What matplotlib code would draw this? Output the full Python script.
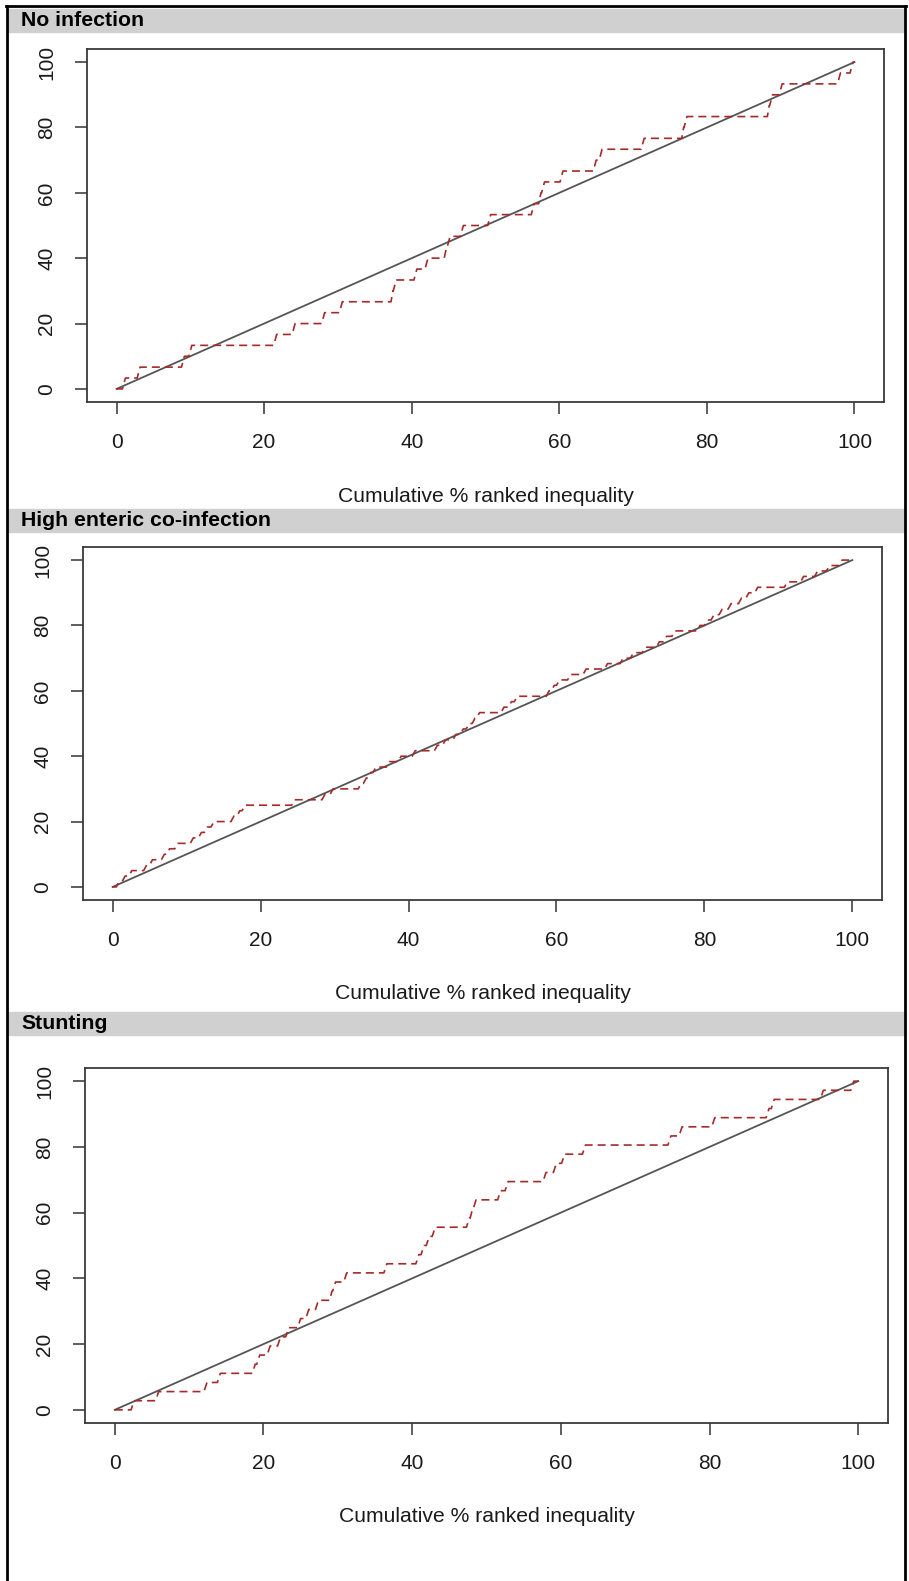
import matplotlib
matplotlib.use('Agg')
import matplotlib.pyplot as plt
from matplotlib.lines import Line2D
from matplotlib.patches import Rectangle

plt.rcParams['font.family'] = ['Liberation Sans', 'DejaVu Sans']

W, H = 909, 1581

titles = ['No infection', 'High enteric co-infection', 'Stunting']
xlabel = 'Cumulative % ranked inequality'
ticks = [0, 20, 40, 60, 80, 100]

# x (cumulative %) where the concentration curve climbs, and the level it reaches
no_inf_x = [0.8, 2.8, 8.8, 9.8, 21.3, 23.8, 27.8, 30.2, 37.2, 37.5, 40.3, 41.8,
            44.4, 44.8, 46.6, 50.3, 56.2, 57.2, 57.6, 60.1, 64.6, 65.4, 71.1,
            76.6, 76.9, 88.2, 88.5, 89.8, 97.7, 99.4]
no_inf_y = [3.33, 6.67, 10, 13.33, 16.67, 20, 23.33, 26.67, 30, 33.33, 36.67, 40,
            43.33, 46.67, 50, 53.33, 56.67, 60, 63.33, 66.67, 70, 73.33, 76.67,
            80, 83.33, 86.67, 90, 93.33, 96.67, 100]

enteric_x = [0.5, 1.3, 2.2, 4.2, 5.0, 6.6, 7.3, 8.4, 10.5, 11.6, 12.4, 13.3, 16.0,
             16.8, 17.5, 24.2, 28.3, 29.4, 33.2, 33.9, 34.5, 35.2, 37.0, 38.6,
             40.5, 43.5, 44.6, 46.0, 47.0, 47.8, 48.6, 49.2, 52.5, 53.5, 54.3,
             58.6, 59.3, 60.0, 61.5, 63.6, 66.5, 68.6, 70.0, 71.6, 73.5, 74.5,
             75.6, 79.0, 80.0, 80.9, 82.0, 83.2, 84.6, 85.6, 86.8, 90.8, 93.0,
             94.9, 96.5, 98.2]
enteric_y = [1.67, 3.33, 5, 6.67, 8.33, 10, 11.67, 13.33, 15, 16.67, 18.33, 20,
             21.67, 23.33, 25, 26.67, 28.33, 30, 31.67, 33.33, 35, 36.67, 38.33,
             40, 41.67, 43.33, 45, 46.67, 48.33, 50, 51.67, 53.33, 55, 56.67,
             58.33, 60, 61.67, 63.33, 65, 66.67, 68.33, 70, 71.67, 73.33, 75,
             76.67, 78.33, 80, 81.67, 83.33, 85, 86.67, 88.33, 90, 91.67, 93.33,
             95, 96.67, 98.33, 100]

stunt_x = [2.2, 5.5, 12.0, 13.8, 18.5, 19.1, 20.5, 21.9, 23.0, 24.6, 25.7, 27.0,
           28.9, 29.3, 30.8, 36.2, 40.5, 41.2, 41.9, 42.7, 47.3, 47.8, 48.2, 51.5,
           52.5, 57.6, 59.0, 60.1, 62.9, 74.4, 75.9, 80.3, 87.6, 88.3, 94.9, 99.0]
stunt_y = [2.78, 5.56, 8.33, 11.11, 13.89, 16.67, 19.44, 22.22, 25, 27.78, 30.56,
           33.33, 36.11, 38.89, 41.67, 44.44, 47.22, 50, 52.78, 55.56, 58.33,
           61.11, 63.89, 66.67, 69.44, 72.22, 75, 77.78, 80.56, 83.33, 86.11,
           88.89, 91.67, 94.44, 97.22, 100]

curves = [(no_inf_x, no_inf_y), (enteric_x, enteric_y), (stunt_x, stunt_y)]

# pixel layout: axes box (left, top, width, height) and header bar (top, bottom)
boxes = [(87, 49, 797, 353), (83, 547, 799, 353), (85, 1068, 803, 355)]
bars = [(9, 32), (509, 532), (1012, 1035)]


def stairs(sx, sy, w=0.4):
    xs, ys = [0], [0]
    prev = 0
    for i, (x, y) in enumerate(zip(sx, sy)):
        nxt = sx[i + 1] if i + 1 < len(sx) else 100
        d = min(w, (nxt - x) * 0.8)
        xs += [x, x + d]
        ys += [prev, y]
        prev = y
    xs.append(100)
    ys.append(prev)
    return xs, ys


fig = plt.figure(figsize=(W / 100, H / 100), dpi=100)

for title, (sx, sy), (l, t, w, h), (b0, b1) in zip(titles, curves, boxes, bars):
    ax = fig.add_axes([l / W, 1 - (t + h) / H, w / W, h / H])
    ax.plot([0, 100], [0, 100], color='#555555', lw=1.3)
    xs, ys = stairs(sx, sy)
    ax.plot(xs, ys, color='#a52a2a', lw=1.2, dashes=(4.8, 3))
    ax.set_xlim(-4, 104)
    ax.set_ylim(-4, 104)
    ax.set_xticks(ticks)
    ax.set_yticks(ticks)
    ax.tick_params(length=8.6, width=1.1, color='#333333', labelcolor='#1a1a1a',
                   labelsize=15)
    ax.tick_params(axis='x', pad=13.5)
    ax.tick_params(axis='y', labelrotation=90, pad=13.5)
    plt.setp(ax.get_yticklabels(), va='center')
    ax.set_xlabel(xlabel, fontsize=15.2, color='#1a1a1a')
    ax.xaxis.label.set_va('center')
    ax.xaxis.set_label_coords(0.5, -94 / h)
    for s in ax.spines.values():
        s.set_color('#3a3a3a')
        s.set_linewidth(1.3)

    fig.patches.append(Rectangle((8 / W, 1 - b1 / H), (905 - 8) / W, (b1 - b0) / H,
                                 transform=fig.transFigure, color='#d0d0d0', zorder=0))
    fig.text(21 / W, 1 - (b0 + b1) / 2 / H, title, fontsize=15.3, weight='bold',
             va='center', ha='left')

# outer frame
for xx, yy in [([7, 7], [6, H]), ([6, 906], [6, 6]), ([905, 905], [6, H])]:
    fig.lines.append(Line2D([v / W for v in xx], [1 - v / H for v in yy],
                            transform=fig.transFigure, color='black', lw=2))

fig.savefig('out.png', dpi=100)
